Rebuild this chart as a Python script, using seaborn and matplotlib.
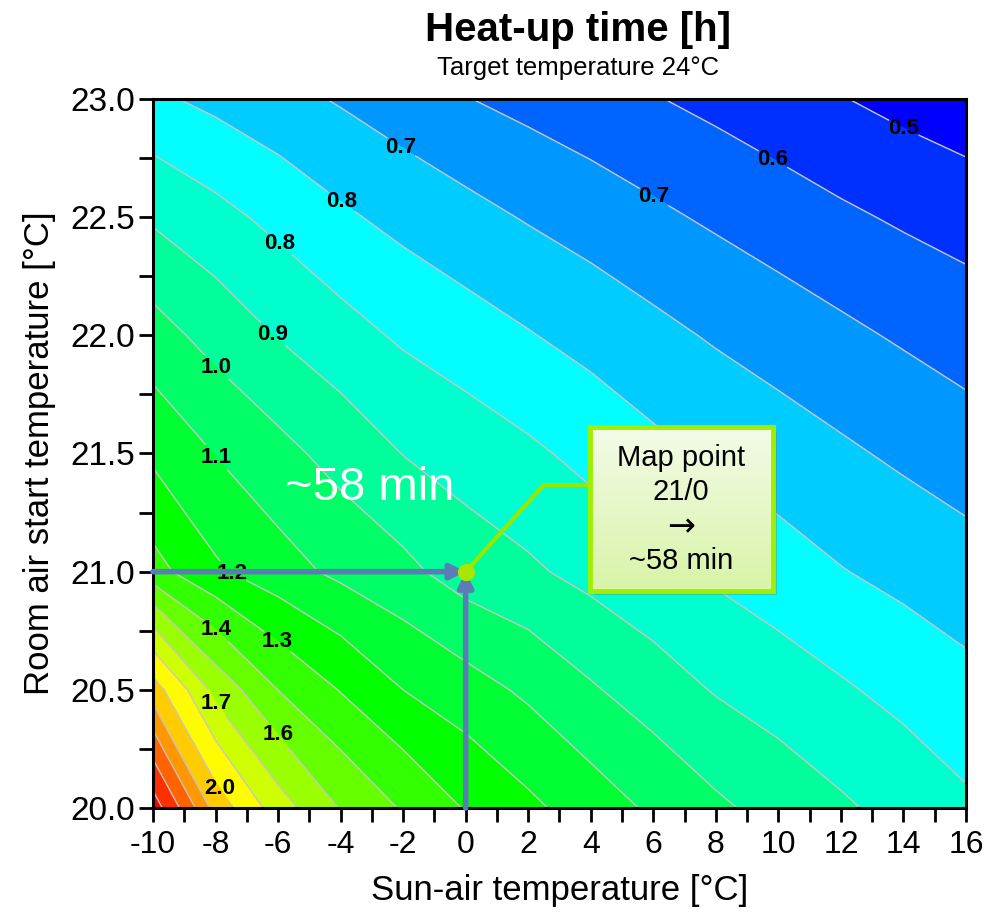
import numpy as np
import seaborn as sns
import matplotlib.pyplot as plt
from matplotlib.colors import ListedColormap, BoundaryNorm
from matplotlib.ticker import MultipleLocator, FormatStrFormatter
from matplotlib.patches import Rectangle

# grid of the map
sun_air = [-10, -8, -6, -4, -2, 0, 2, 4, 6, 8, 10, 12, 14, 16]
room_start = [20.0, 20.5, 21.0, 21.5, 22.0, 22.5, 23.0]

# heat-up time [h], one row per room start temperature
heat_y200 = [3.04, 2.151, 1.784, 1.561, 1.425, 1.309, 1.229, 1.155, 1.088, 1.027, 0.980, 0.938, 0.899, 0.861]
heat_y205 = [2.127, 1.664, 1.437, 1.311, 1.206, 1.146, 1.086, 1.021, 0.967, 0.920, 0.888, 0.857, 0.827, 0.798]
heat_y210 = [1.359, 1.223, 1.144, 1.082, 1.034, 0.970, 0.939, 0.901, 0.867, 0.836, 0.808, 0.780, 0.758, 0.738]
heat_y215 = [1.185, 1.101, 1.038, 0.979, 0.924, 0.892, 0.861, 0.828, 0.794, 0.766, 0.743, 0.721, 0.700, 0.680]
heat_y220 = [1.047, 0.979, 0.922, 0.876, 0.837, 0.808, 0.781, 0.754, 0.728, 0.704, 0.683, 0.663, 0.644, 0.626]
heat_y225 = [0.915, 0.871, 0.828, 0.788, 0.757, 0.731, 0.706, 0.684, 0.662, 0.642, 0.623, 0.605, 0.589, 0.576]
heat_y230 = [0.789, 0.760, 0.732, 0.705, 0.678, 0.653, 0.634, 0.616, 0.599, 0.582, 0.565, 0.548, 0.532, 0.517]

# contour levels (log spaced)
line_levels = [0.546, 0.596, 0.651, 0.711, 0.777, 0.848, 0.926, 1.011, 1.104, 1.206,
               1.317, 1.438, 1.570, 1.715, 1.872, 2.045, 2.233, 2.438, 2.663, 2.907]

# where the contour labels sit
label_spots = [(14.05, 22.89), (9.8, 22.74), (6.0, 22.58), (-2.0, 22.81), (-4.0, 22.56),
               (-6.0, 22.38), (-6.2, 22.0), (-8.0, 21.86), (-8.0, 21.48), (-7.5, 20.99),
               (-8.0, 20.75), (-6.0, 20.71), (-8.0, 20.44), (-6.0, 20.31), (-8.0, 20.07)]

map_point = (0, 21)
box_lines = ['Map point', '21/0', '\u2192', '~58 min']

sns.set_theme(style="ticks")
plt.rcParams['font.family'] = ['Liberation Sans', 'DejaVu Sans']
plt.rcParams['axes.unicode_minus'] = False
for k in ['text.color', 'axes.labelcolor', 'xtick.color', 'ytick.color']:
    plt.rcParams[k] = 'black'

Z = np.array([heat_y200, heat_y205, heat_y210, heat_y215, heat_y220, heat_y225, heat_y230])

colors = sns.blend_palette(["#0000ff", "#00ffff", "#00ff00", "#ffff00", "#ff0000"], len(line_levels) + 1)
cmap = ListedColormap(colors)
fill_levels = [0.0] + line_levels + [10.0]
norm = BoundaryNorm(fill_levels, cmap.N)

fig = plt.figure(figsize=(9.9, 9.13), dpi=100)
ax = fig.add_axes([0.1545, 0.115, 0.8213, 0.7766])
ax.set_xlim(-10, 16)
ax.set_ylim(20, 23)

ax.contourf(sun_air, room_start, Z, levels=fill_levels, cmap=cmap, norm=norm)
cs = ax.contour(sun_air, room_start, Z, levels=line_levels, colors='#c9c4c4', linewidths=1.0)
labels = ax.clabel(cs, fmt='%.1f', manual=label_spots, fontsize=16, colors='black',
                   inline=True, inline_spacing=1)
for t in labels:
    t.set_fontweight('bold')
    t.set_rotation(0)

# map point reading
arrow_kw = dict(arrowstyle='-|>', color='#5a7db5', lw=4, mutation_scale=22, shrinkA=0, shrinkB=0)
ax.annotate('', xy=map_point, xytext=(-10, map_point[1]), arrowprops=arrow_kw, zorder=5)
ax.annotate('', xy=map_point, xytext=(map_point[0], 20), arrowprops=arrow_kw, zorder=5)
ax.scatter([map_point[0]], [map_point[1]], s=130, color='#a8e600', zorder=7)

ax.text(-3.06, 21.354, '~58 min', color='white', fontsize=34, ha='center', va='center', zorder=6)

# callout box with light gradient and shadow
bx0, by0, bw, bh = 0.5375, 0.306, 0.2251, 0.231
ax.add_patch(Rectangle((bx0 + 0.005, by0 - 0.006), bw, bh, transform=ax.transAxes,
                       fc='#6a7a50', alpha=0.35, lw=0, zorder=7.5))
grad = np.linspace(0, 1, 64).reshape(-1, 1)
gcmap = ListedColormap(sns.blend_palette(['#f3fbe8', '#d8f4a8'], 64))
ax.imshow(grad, cmap=gcmap, aspect='auto', origin='upper', zorder=8,
          extent=[-10 + 26 * bx0, -10 + 26 * (bx0 + bw), 20 + 3 * by0, 20 + 3 * (by0 + bh)])
ax.add_patch(Rectangle((bx0, by0), bw, bh, transform=ax.transAxes,
                       fc='none', ec='#9ef000', lw=3.5, zorder=8.5))
for i, line in enumerate(box_lines):
    fam = ['DejaVu Sans'] if line == '\u2192' else ['Liberation Sans', 'DejaVu Sans']
    ax.text(0.6494, 0.4937 - i * 0.0484, line, transform=ax.transAxes, family=fam,
            ha='center', va='center', fontsize=21 if i != 2 else 24, zorder=9)
ax.annotate('', xy=map_point, xytext=(bx0, 0.4555), textcoords='axes fraction',
            arrowprops=dict(arrowstyle='-', color='#99e600', lw=3,
                            connectionstyle='angle,angleA=0,angleB=48,rad=0',
                            shrinkA=0, shrinkB=0),
            zorder=6)

ax.set_xlim(-10, 16)
ax.set_ylim(20, 23)
ax.xaxis.set_major_locator(MultipleLocator(2))
ax.xaxis.set_minor_locator(MultipleLocator(1))
ax.yaxis.set_major_locator(MultipleLocator(0.5))
ax.yaxis.set_minor_locator(MultipleLocator(0.25))
ax.yaxis.set_major_formatter(FormatStrFormatter('%.1f'))
ax.tick_params(which='both', direction='out', length=10, width=2, color='black',
               top=False, right=False)
ax.tick_params(axis='x', labelsize=23, pad=6)
ax.tick_params(axis='y', labelsize=24, pad=3)
for s in ax.spines.values():
    s.set_linewidth(2.2)
    s.set_color('black')

ax.set_xlabel('Sun-air temperature [°C]', fontsize=25, labelpad=10)
ax.set_ylabel('Room air start temperature [°C]', fontsize=25, labelpad=10)

fig.text(0.584, 0.967, 'Heat-up time [h]', fontsize=29, fontweight='bold', ha='center', va='center')
fig.text(0.584, 0.9255, 'Target temperature 24°C', fontsize=18.5, ha='center', va='center')

plt.savefig('out.png', dpi=100)
